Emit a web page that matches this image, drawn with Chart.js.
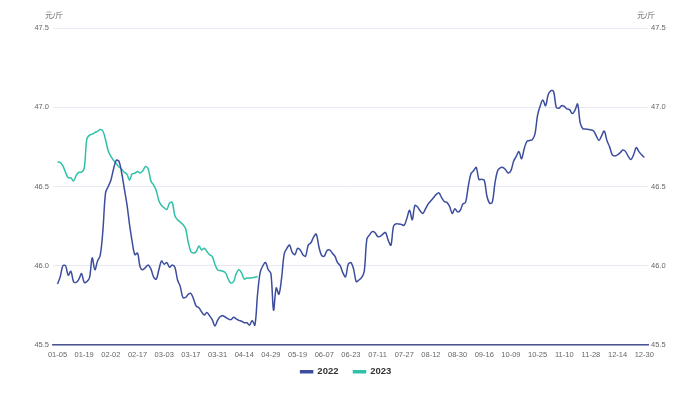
<!DOCTYPE html>
<html>
<head>
<meta charset="utf-8">
<script src="https://cdn.jsdelivr.net/npm/chart.js@4.4.1/dist/chart.umd.min.js"></script>
<style>
  html, body { margin: 0; padding: 0; background: #ffffff; }
  #wrap { position: relative; width: 700px; height: 394px; }
</style>
</head>
<body>
<div id="wrap"><canvas id="c" width="700" height="394"></canvas></div>
<script>
// Tick labels along the x axis (one every 10 data points)
const tickLabels = ["01-05","01-19","02-02","02-17","03-03","03-17","03-31","04-14","04-29","05-19","06-07","06-23","07-11","07-27","08-12","08-30","09-16","10-09","10-25","11-10","11-28","12-14","12-30"];

const seriesNames = ["2022", "2023"];
const unitLabel = "元/斤";

// 2022 daily values (元/斤)
const values2022 = [
  45.885,45.93,46.00,46.00,45.94,45.965,45.90,45.895,45.915,45.95,
  45.895,45.90,45.925,46.05,45.975,46.03,46.065,46.22,46.46,46.50,
  46.54,46.61,46.665,46.66,46.59,46.49,46.39,46.26,46.15,46.07,
  46.08,45.99,45.975,45.99,46.005,45.98,45.93,45.915,45.975,46.03,
  46.01,46.02,45.99,46.005,45.99,45.91,45.87,45.80,45.80,45.82,
  45.825,45.79,45.745,45.735,45.71,45.69,45.705,45.685,45.66,45.62,
  45.655,45.68,45.685,45.675,45.665,45.66,45.675,45.665,45.655,45.65,
  45.64,45.64,45.625,45.655,45.625,45.82,45.96,46.00,46.02,45.975,
  45.95,45.72,45.86,45.82,45.92,46.075,46.11,46.13,46.085,46.07,
  46.11,46.10,46.07,46.06,46.13,46.145,46.18,46.20,46.12,46.065,
  46.06,46.095,46.10,46.08,46.06,46.02,46.00,45.955,45.93,46.01,
  46.02,45.98,45.90,45.91,45.925,45.965,46.17,46.195,46.215,46.21,
  46.185,46.185,46.20,46.21,46.16,46.13,46.25,46.265,46.263,46.26,
  46.255,46.30,46.35,46.29,46.38,46.37,46.345,46.33,46.36,46.39,
  46.41,46.43,46.45,46.46,46.43,46.405,46.40,46.375,46.33,46.36,
  46.34,46.35,46.39,46.40,46.50,46.58,46.60,46.62,46.545,46.545,
  46.54,46.44,46.395,46.40,46.52,46.60,46.618,46.62,46.606,46.585,
  46.60,46.66,46.69,46.72,46.675,46.74,46.785,46.79,46.795,46.83,
  46.95,47.01,47.045,47.01,47.08,47.105,47.10,47.00,46.994,47.01,
  47.005,46.99,46.985,46.96,46.98,47.02,46.90,46.865,46.863,46.86,
  46.857,46.85,46.82,46.79,46.82,46.85,46.79,46.75,46.70,46.693,
  46.70,46.714,46.73,46.72,46.69,46.67,46.70,46.745,46.72,46.70,
  46.683
];

// 2023 daily values (元/斤)
const values2023 = [
  46.655,46.652,46.63,46.59,46.555,46.555,46.535,46.57,46.59,46.59,
  46.615,46.80,46.824,46.83,46.84,46.848,46.86,46.85,46.795,46.725,
  46.69,46.665,46.645,46.624,46.61,46.59,46.578,46.54,46.58,46.584,
  46.595,46.585,46.60,46.626,46.61,46.535,46.51,46.475,46.41,46.38,
  46.365,46.355,46.395,46.40,46.315,46.29,46.276,46.26,46.235,46.15,
  46.09,46.08,46.09,46.125,46.10,46.11,46.09,46.07,46.059,46.01,
  45.974,45.97,45.965,45.955,45.915,45.891,45.90,45.95,45.975,45.955,
  45.916,45.922,45.922,45.925,45.928,45.932
];

const seriesColors = ["#3c4d9e", "#2fc1a7"];

const toPoints = arr => arr.map((v, i) => ({ x: i, y: v }));

const unitPlugin = {
  id: 'unitPlugin',
  afterLayout(chart) {
    // lift the legend so it sits just under the axis labels
    const lg = chart.legend;
    if (lg) { lg.top -= 7.5; lg.bottom -= 7.5; }
  },
  afterDraw(chart) {
    const ctx = chart.ctx;
    const yl = chart.scales.y, yr = chart.scales.y1;
    ctx.save();
    ctx.font = '8px "Liberation Sans", Arial, sans-serif';
    ctx.fillStyle = '#666666';
    ctx.textAlign = 'center';
    ctx.textBaseline = 'middle';
    ctx.fillText(unitLabel, yl.right + 1, chart.chartArea.top - 12);
    ctx.fillText(unitLabel, yr.left - 2, chart.chartArea.top - 12);
    ctx.restore();
  }
};

const tickFont = { family: '"Liberation Sans", Arial, sans-serif', size: 7.5 };

new Chart(document.getElementById('c'), {
  type: 'line',
  data: {
    datasets: [
      { label: seriesNames[0], data: toPoints(values2022), borderColor: seriesColors[0], backgroundColor: seriesColors[0],
        borderWidth: 1.5, pointRadius: 0, tension: 0.35, yAxisID: 'y' },
      { label: seriesNames[1], data: toPoints(values2023), borderColor: seriesColors[1], backgroundColor: seriesColors[1],
        borderWidth: 1.5, pointRadius: 0, tension: 0.35, yAxisID: 'y' }
    ]
  },
  options: {
    responsive: false,
    animation: false,
    devicePixelRatio: 1,
    layout: { padding: { top: 28, right: 8, bottom: 0, left: 0 } },
    plugins: {
      legend: {
        position: 'bottom',
        labels: {
          boxWidth: 12, boxHeight: 2, padding: 15,
          color: '#333333',
          font: { family: '"Liberation Sans", Arial, sans-serif', size: 9.5, weight: 'bold' }
        }
      },
      tooltip: { enabled: false }
    },
    scales: {
      x: {
        type: 'linear',
        min: -1.7, max: 221.4,
        grid: { display: false, drawTicks: false },
        border: { display: true, color: '#4b5591', width: 1.5 },
        afterBuildTicks: s => { s.ticks = tickLabels.map((_, k) => ({ value: k * 10 })); },
        afterFit: s => { s.height = 14.5; },
        ticks: {
          autoSkip: false, maxRotation: 0, padding: 5, color: '#666666', font: tickFont,
          callback: v => tickLabels[Math.round(v / 10)]
        }
      },
      y: {
        position: 'left',
        min: 45.5, max: 47.5,
        grid: { color: '#e7e8f3', lineWidth: 1, drawTicks: false },
        border: { display: false },
        afterFit: s => { s.width = 53; },
        ticks: { stepSize: 0.5, padding: 4, color: '#666666', font: tickFont, callback: v => v.toFixed(1) }
      },
      y1: {
        position: 'right',
        min: 45.5, max: 47.5,
        grid: { display: false, drawTicks: false },
        border: { display: false },
        afterFit: s => { s.width = 44; },
        ticks: { stepSize: 0.5, padding: 3, color: '#666666', font: tickFont, callback: v => v.toFixed(1) }
      }
    }
  },
  plugins: [unitPlugin]
});
</script>
</body>
</html>
